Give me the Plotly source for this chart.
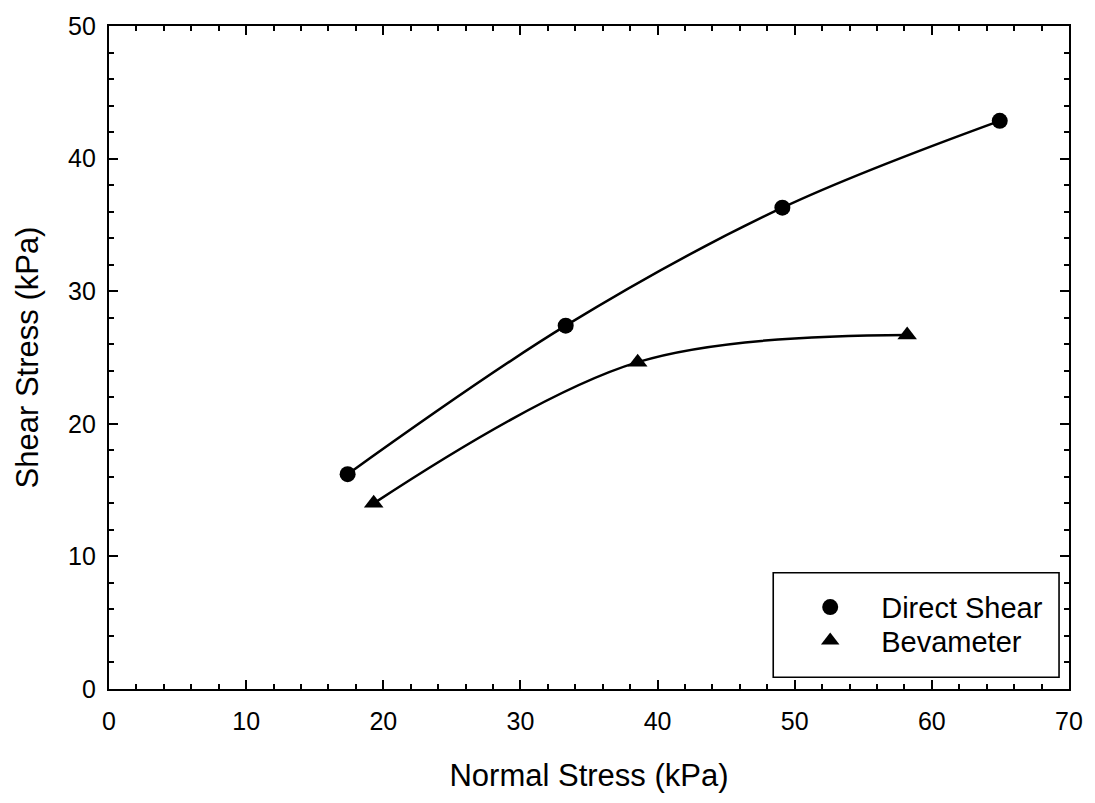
import plotly.graph_objects as go

# Data
direct_x = [17.4, 33.3, 49.1, 64.95]
direct_y = [16.2, 27.4, 36.3, 42.85]
bev_x = [19.3, 38.55, 58.2]
bev_y = [14.0, 24.65, 26.7]

x_ticks = [0, 10, 20, 30, 40, 50, 60, 70]
y_ticks = [0, 10, 20, 30, 40, 50]

FONT = "Liberation Sans, Arial, sans-serif"

fig = go.Figure()

# Smooth curves through the points
for xs, ys in [(direct_x, direct_y), (bev_x, bev_y)]:
    fig.add_trace(go.Scatter(x=xs, y=ys, mode="lines",
                             line=dict(color="black", width=2.5, shape="spline", smoothing=1),
                             showlegend=False, hoverinfo="skip"))

fig.add_trace(go.Scatter(x=direct_x, y=direct_y, mode="markers", name="Direct Shear",
                         legend="legend",
                         marker=dict(symbol="circle", size=16, color="black")))
fig.add_trace(go.Scatter(x=bev_x, y=bev_y, mode="markers", name="Bevameter",
                         legend="legend2",
                         marker=dict(symbol="triangle-up", size=17, color="black")))

axis_common = dict(
    showgrid=False, zeroline=False, showline=True, linecolor="black", linewidth=2.2,
    mirror="allticks", ticks="inside", ticklen=9, tickwidth=1.6, tickcolor="black",
    tickfont=dict(family=FONT, size=25, color="black"),
    minor=dict(ticks="inside", ticklen=5, tickwidth=1.6, tickcolor="black", dtick=2),
)

fig.update_xaxes(range=[0, 70], tickvals=x_ticks,
                 title=dict(text="Normal Stress (kPa)", font=dict(family=FONT, size=31, color="black"),
                            standoff=30),
                 ticklabelstandoff=9, **axis_common)
fig.update_yaxes(range=[0, 50], tickvals=y_ticks,
                 title=dict(text="Shear Stress (kPa)", font=dict(family=FONT, size=31, color="black"),
                            standoff=20),
                 ticklabelstandoff=6, **axis_common)

# Legend box
fig.add_shape(type="rect", xref="paper", yref="paper",
              x0=(776 - 109) / 964, x1=(1063 - 109) / 964,
              y0=(689 - 677) / 673, y1=(689 - 571) / 673,
              line=dict(color="black", width=1.6), fillcolor="white", layer="below")

leg_common = dict(xanchor="left", yanchor="middle",
                  font=dict(family=FONT, size=29, color="black"),
                  bgcolor="rgba(0,0,0,0)", borderwidth=0, itemwidth=92)

fig.update_layout(
    width=1095, height=803,
    margin=dict(l=109, r=22, t=16, b=114),
    plot_bgcolor="white", paper_bgcolor="white",
    font=dict(family=FONT, color="black"),
    legend=dict(x=(782 - 109) / 964, y=(689 - 606) / 673, **leg_common),
    legend2=dict(x=(782 - 109) / 964, y=(689 - 640) / 673, **leg_common),
)

fig.write_html("out.html")
